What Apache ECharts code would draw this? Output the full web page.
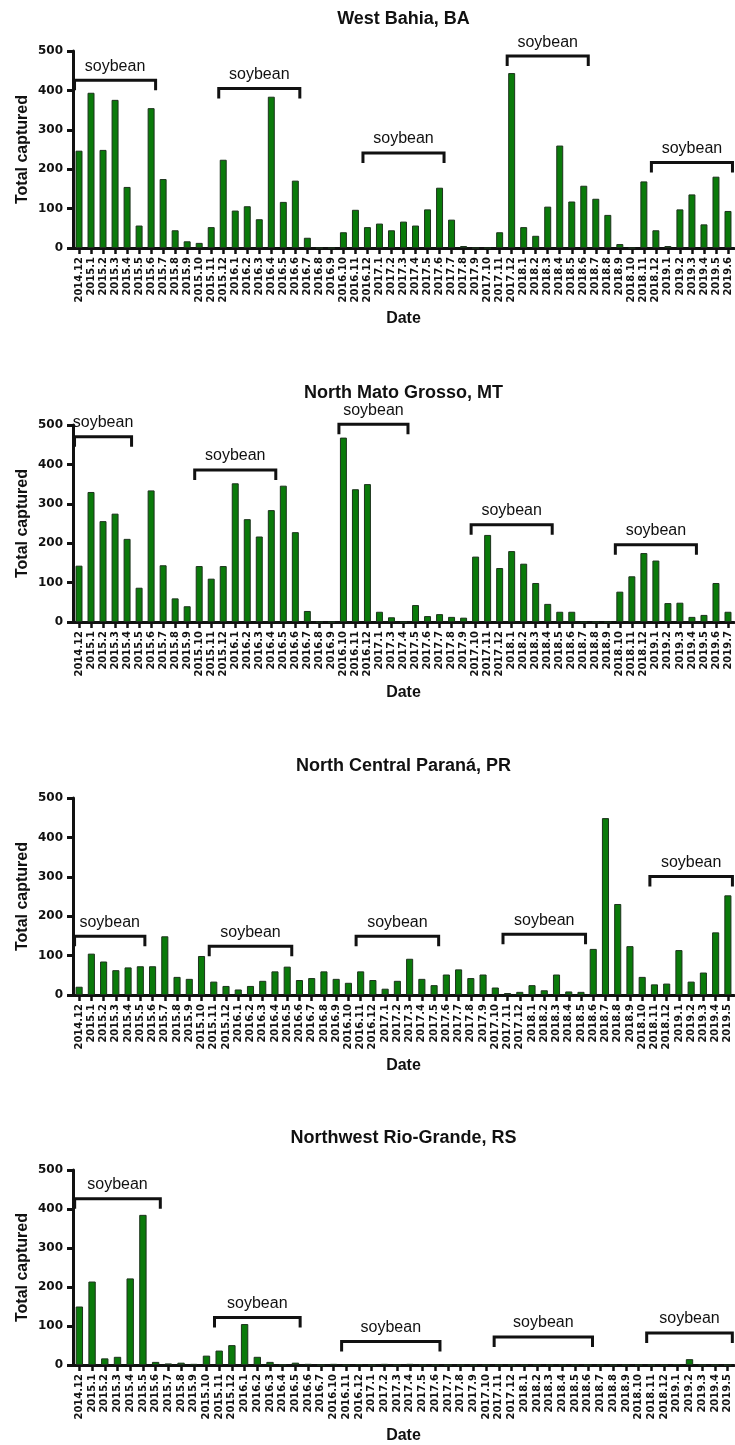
<!DOCTYPE html>
<html><head><meta charset="utf-8">
<script src="https://cdn.jsdelivr.net/npm/echarts@6/dist/echarts.min.js"></script>
<style>html,body{margin:0;padding:0;background:#fff}#c{width:735px;height:1445px}</style>
</head><body><div id="c"></div>
<script>
const panelTitles = ["West Bahia, BA", "North Mato Grosso, MT", "North Central Paraná, PR", "Northwest Rio-Grande, RS"];
const yTicks = [0, 100, 200, 300, 400, 500];

const catsBA = ["2014.12",
 "2015.1","2015.2","2015.3","2015.4","2015.5","2015.6","2015.7","2015.8","2015.9","2015.10","2015.11","2015.12",
 "2016.1","2016.2","2016.3","2016.4","2016.5","2016.6","2016.7","2016.8","2016.9","2016.10","2016.11","2016.12",
 "2017.1","2017.2","2017.3","2017.4","2017.5","2017.6","2017.7","2017.8","2017.9","2017.10","2017.11","2017.12",
 "2018.1","2018.2","2018.3","2018.4","2018.5","2018.6","2018.7","2018.8","2018.9","2018.10","2018.11","2018.12",
 "2019.1","2019.2","2019.3","2019.4","2019.5","2019.6"];
const valsBA = [247,
 394,249,376,155,57,355,175,45,17,13,53,224,
 95,106,73,384,117,171,26,0,0,40,97,53,
 62,45,67,57,98,153,72,5,0,0,40,444,
 53,31,105,260,118,158,125,84,10,0,169,45,
 5,98,136,60,181,94];
const soyBA = [["2014.12","2015.6",426],["2015.12","2016.6",405],["2016.12","2017.6",241],["2017.12","2018.6",487],["2018.12","2019.6",217]];

const catsMT = ["2014.12",
 "2015.1","2015.2","2015.3","2015.4","2015.5","2015.6","2015.7","2015.8","2015.9","2015.10","2015.11","2015.12",
 "2016.1","2016.2","2016.3","2016.4","2016.5","2016.6","2016.7","2016.8","2016.9","2016.10","2016.11","2016.12",
 "2017.1","2017.3","2017.4","2017.5","2017.6","2017.7","2017.8","2017.9","2017.10","2017.11","2017.12",
 "2018.1","2018.2","2018.3","2018.4","2018.5","2018.6","2018.7","2018.8","2018.9","2018.10","2018.11","2018.12",
 "2019.1","2019.2","2019.3","2019.4","2019.5","2019.6","2019.7"];
const valsMT = [143,
 330,256,275,211,87,334,144,60,40,142,110,142,
 352,261,217,284,346,228,28,0,0,468,337,350,
 26,12,0,43,15,20,13,11,166,221,137,
 180,148,99,46,26,26,0,0,0,77,116,175,
 156,48,49,13,18,99,26];
const soyMT = [["2014.12","2015.4",470],["2015.10","2016.4",386],["2016.10","2017.4",502],["2017.10","2018.4",247],["2018.10","2019.4",196]];

const catsPR = ["2014.12",
 "2015.1","2015.2","2015.3","2015.4","2015.5","2015.6","2015.7","2015.8","2015.9","2015.10","2015.11","2015.12",
 "2016.1","2016.2","2016.3","2016.4","2016.5","2016.6","2016.7","2016.8","2016.9","2016.10","2016.11","2016.12",
 "2017.1","2017.2","2017.3","2017.4","2017.5","2017.6","2017.7","2017.8","2017.9","2017.10","2017.11","2017.12",
 "2018.1","2018.2","2018.3","2018.4","2018.5","2018.6","2018.7","2018.8","2018.9","2018.10","2018.11","2018.12",
 "2019.1","2019.2","2019.3","2019.4","2019.5"];
const valsPR = [21,
 105,85,63,70,73,73,149,46,41,99,34,23,
 14,23,36,60,72,38,43,60,41,31,60,38,
 16,36,92,41,25,52,65,43,52,19,5,8,
 25,12,52,9,8,117,449,231,124,46,27,29,
 114,34,57,159,253];
const soyPR = [["2014.12","2015.5",149],["2015.11","2016.5",124],["2016.11","2017.5",149],["2017.11","2018.5",154],["2018.11","2019.5",301]];

const catsRS = ["2014.12",
 "2015.1","2015.2","2015.3","2015.4","2015.5","2015.6","2015.7","2015.8","2015.9","2015.10","2015.11","2015.12",
 "2016.1","2016.2","2016.3","2016.4","2016.5","2016.6","2016.7","2016.10","2016.11","2016.12",
 "2017.1","2017.2","2017.3","2017.4","2017.5","2017.6","2017.7","2017.8","2017.9","2017.10","2017.11","2017.12",
 "2018.1","2018.2","2018.3","2018.4","2018.5","2018.6","2018.7","2018.8","2018.9","2018.10","2018.11","2018.12",
 "2019.1","2019.2","2019.3","2019.4","2019.5"];
const valsRS = [150,
 214,17,21,222,385,8,4,6,3,24,37,51,
 105,21,8,1,6,3,0,3,0,2,
 0,3,0,3,0,0,0,0,0,0,0,0,
 0,0,0,0,0,0,0,0,0,0,0,0,
 2,15,0,0,0];
const soyRS = [["2014.12","2015.6",426],["2015.11","2016.5",122],["2016.11","2017.6",60],["2017.11","2018.6",72],["2018.11","2019.5",82]];

const panels = [
  {cats: catsBA, vals: valsBA, soy: soyBA},
  {cats: catsMT, vals: valsMT, soy: soyMT},
  {cats: catsPR, vals: valsPR, soy: soyPR},
  {cats: catsRS, vals: valsRS, soy: soyRS}
];

const gridTops = [51, 425, 798, 1170];
const gridH = 197;
const plotLeft = 73, plotRight = 1;
const plotCenter = plotLeft + (735 - plotLeft - plotRight) / 2;

function bracketRender(params, api) {
  const p1 = api.coord([api.value(0), api.value(2)]);
  const p2 = api.coord([api.value(1), api.value(2)]);
  const band = api.size([1, 0])[0];
  const half = band * 0.29 + 1;
  const x1 = p1[0] - half, x2 = p2[0] + half, y = p1[1];
  return {
    type: 'group',
    children: [
      {type: 'polyline', shape: {points: [[x1, y + 10], [x1, y], [x2, y], [x2, y + 10]]},
       style: {stroke: '#111', lineWidth: 3, fill: null, lineJoin: 'miter', lineCap: 'butt'}},
      {type: 'text', x: (x1 + x2) / 2, y: y - 14,
       style: {text: 'soybean', font: '16px "Liberation Sans", Arial, sans-serif', align: 'center', verticalAlign: 'middle', fill: '#111'}}
    ]
  };
}

const option = {
  animation: false,
  backgroundColor: '#fff',
  title: [], grid: [], xAxis: [], yAxis: [], series: []
};

panels.forEach((p, i) => {
  option.title.push({
    text: panelTitles[i], left: plotCenter, top: gridTops[i] - 41, textAlign: 'center', padding: 0,
    textStyle: {fontFamily: '"Liberation Sans", Arial, sans-serif', fontWeight: 'bold', fontSize: 18, color: '#111'}
  });
  option.grid.push({left: plotLeft, right: plotRight, top: gridTops[i], height: gridH, containLabel: false});
  option.xAxis.push({
    type: 'category', gridIndex: i, data: p.cats,
    name: 'Date', nameLocation: 'middle', nameGap: 63,
    nameTextStyle: {fontFamily: '"Liberation Sans", Arial, sans-serif', fontWeight: 'bold', fontSize: 16, color: '#111'},
    axisLine: {show: true, lineStyle: {color: '#111', width: 3}},
    axisTick: {show: true, alignWithLabel: true, length: 6, interval: 0, lineStyle: {color: '#111', width: 2.5}},
    axisLabel: {interval: 0, rotate: 90, margin: 9, fontFamily: '"DejaVu Sans", sans-serif', fontWeight: 'bold', fontSize: 10, color: '#111'},
    splitLine: {show: false}
  });
  option.yAxis.push({
    type: 'value', gridIndex: i, min: yTicks[0], max: yTicks[yTicks.length - 1], interval: yTicks[1] - yTicks[0],
    name: 'Total captured', nameLocation: 'middle', nameGap: 42, nameRotate: 90, nameMoveOverlap: false,
    nameTextStyle: {fontFamily: '"Liberation Sans", Arial, sans-serif', fontWeight: 'bold', fontSize: 16, color: '#111'},
    axisLine: {show: true, lineStyle: {color: '#111', width: 3}},
    axisTick: {show: true, length: 6, lineStyle: {color: '#111', width: 3}},
    axisLabel: {margin: 10, fontFamily: '"DejaVu Sans", sans-serif', fontWeight: 'bold', fontSize: 12, color: '#111'},
    splitLine: {show: false}
  });
  option.series.push({
    type: 'bar', xAxisIndex: i, yAxisIndex: i, data: p.vals, barWidth: '58%',
    itemStyle: {color: '#0a7a0a', borderColor: '#1d331d', borderWidth: 1}
  });
  option.series.push({
    type: 'custom', xAxisIndex: i, yAxisIndex: i, renderItem: bracketRender, clip: false, z: 5,
    encode: {x: [0, 1], y: 2},
    data: p.soy.map(b => [p.cats.indexOf(b[0]), p.cats.indexOf(b[1]), b[2]])
  });
});

const chart = echarts.init(document.getElementById('c'), null, {renderer: 'canvas'});
chart.setOption(option);
</script>
</body></html>
